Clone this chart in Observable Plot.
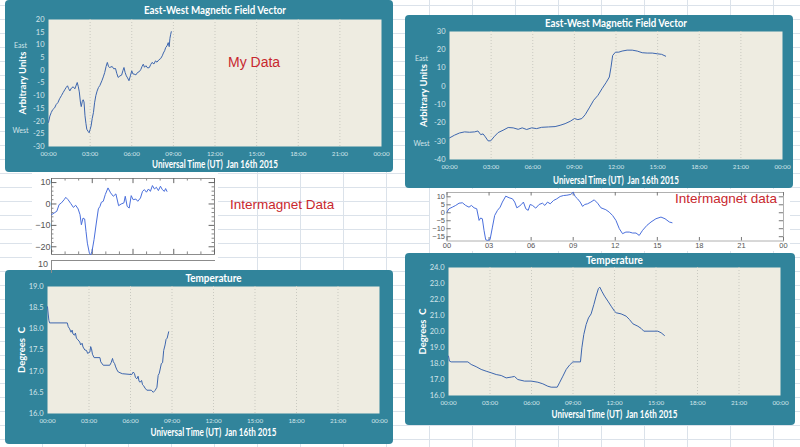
<!DOCTYPE html>
<html><head><meta charset="utf-8">
<script src="https://cdn.jsdelivr.net/npm/d3@7"></script>
<script src="https://cdn.jsdelivr.net/npm/@observablehq/plot@0.6"></script>
<style>
body{margin:0;width:800px;height:447px;overflow:hidden;position:relative;font-family:Lato,"Open Sans",sans-serif;
background-color:#fff;
background-image:linear-gradient(to right,#dbe2ea 1px,transparent 1px),linear-gradient(to bottom,#dbe2ea 1px,transparent 1px);
background-size:43px 14px;background-position:42px 5px;}
.panel{position:absolute;background:#31849B;border-radius:4px;overflow:hidden;}
.red{position:absolute;color:#C8282E;font-family:"Liberation Sans",Arial,sans-serif;white-space:nowrap;}
.wbox{position:absolute;background:#fff;}
</style></head><body>
<script>
// ---------- shared axis values ----------
const hourTicks = [0,3,6,9,12,15,18,21,24];
const hourLabels = ["00:00","03:00","06:00","09:00","12:00","15:00","18:00","21:00","00:00"];
const shortHourLabels = ["00","03","06","09","12","15","18","21","00"];
const xAxisTitle = "Universal Time (UT)  Jan 16th 2015";

// ---------- Panel 1: My Data, East-West field (left) ----------
const myMagHours = [0,0.1,0.2,0.3,0.44,0.55,0.68,0.8,0.93,1.05,
  1.17,1.27,1.37,1.45,1.54,1.65,1.78,1.9,2.0,2.07,
  2.15,2.22,2.3,2.36,2.44,2.5,2.56,2.63,2.7,2.76,
  2.85,2.93,3.0,3.07,3.15,3.24,3.32,3.41,3.5,3.6,
  3.7,3.85,3.95,4.05,4.15,4.24,4.32,4.39,4.5,4.59,
  4.7,4.83,4.92,5.02,5.15,5.27,5.36,5.44,5.52,5.61,
  5.7,5.8,5.9,6.0,6.08,6.17,6.3,6.41,6.55,6.66,
  6.75,6.83,6.92,7.02,7.15,7.27,7.36,7.46,7.6,7.71,
  7.82,7.95,8.08,8.2,8.28,8.37,8.45,8.54,8.63,8.7,
  8.75,8.8,8.85];
const myMagValues = [-20.5,-18,-16.6,-15.5,-14.8,-13.5,-12.7,-11.2,-10,-8.8,
  -7.7,-6.8,-6.1,-7.2,-8.1,-7.0,-6.5,-7.3,-5.8,-4.8,
  -6.5,-8.5,-12.5,-14.3,-12.2,-11.6,-12.5,-17.9,-21,-23.2,
  -24.0,-24.6,-23.3,-21.9,-19,-16.6,-12.8,-10,-8.2,-6.8,
  -6,-4.1,-2.6,-0.9,1.5,3.1,1.6,1.1,1.3,1.5,
  0.6,0.7,-1.2,-2.8,-2.2,-1.9,-0.2,1.1,-0.8,-2.2,
  -3.0,-4.1,-2.2,-0.2,-1.4,-1.5,-1.8,-0.9,-0.5,0.4,
  1.6,2.4,1.2,1.8,0.9,1.1,2.2,3.1,2.5,3.7,
  3.2,4.1,4.6,5.7,6.8,7.7,9.0,9.6,10.9,9.3,
  12.5,14,15.2];
const magLeftTicks = [-30,-25,-20,-15,-10,-5,0,5,10,15,20];

// ---------- Panel 2: East-West field (right) ----------
const magRightHours = [0,0.36,0.72,1.09,1.45,1.81,2.05,2.25,2.42,2.58,
  2.78,2.97,3.21,3.5,3.86,4.23,4.59,4.95,5.24,5.56,
  5.92,6.28,6.64,7.13,7.61,7.97,8.33,8.7,9.01,9.25,
  9.54,9.78,10.07,10.39,10.7,10.99,11.28,11.52,11.64,11.76,
  11.96,12.2,12.44,12.8,13.17,13.53,13.89,14.25,14.61,14.98,
  15.29,15.58];
const magRightValues = [-28.2,-26.7,-25.5,-24.9,-25.1,-24.9,-24.4,-26.4,-26,-27.6,
  -29.8,-29.8,-27.6,-25.3,-24,-22.5,-22.7,-23.5,-22.7,-23.6,
  -22.7,-23.1,-22.4,-22.2,-22,-21.3,-20.4,-19.1,-17.6,-18.2,
  -17.6,-15.5,-11.8,-7.6,-4.9,-1.3,2,5.1,10.5,16.9,
  18.7,18.7,19.3,19.8,19.8,19.3,18.4,18.2,18.2,17.8,
  17.5,16.5];
const magRightTicks = [-40,-30,-20,-10,0,10,20,30];

// ---------- Panel 3: Intermagnet data (left, 0-12 h) ----------
const imLeftHours = [0,0.2,0.39,0.56,0.73,0.93,1.05,1.22,1.42,1.61,
  1.78,1.96,2.1,2.2,2.32,2.44,2.54,2.64,2.79,2.88,
  2.98,3.13,3.3,3.45,3.57,3.67,3.81,3.96,4.16,4.35,
  4.55,4.74,4.94,5.13,5.33,5.43,5.57,5.72,5.87,6.01,
  6.21,6.35,6.55,6.7,6.84,6.99,7.14,7.28,7.43,7.58,
  7.72,7.87,8.02,8.16,8.31,8.4,8.5];
const imLeftValues = [-5,-4.2,-3.4,-0.3,0.5,2,3.1,2,0.2,-1.6,
  -0.6,-2.3,-5,-9.7,-6.6,-7,-12.8,-18.3,-23,-23.8,
  -22.2,-16.7,-8.9,-2.3,-1.1,0.8,1.25,4.4,7.5,5.2,
  3.6,4.7,-0.8,0,0.5,3.6,-1.1,-1.9,3.9,2,
  2.3,1.25,2.8,5.9,6.7,5.5,7,5.9,8.6,7,
  7.8,6.25,8.3,6.7,5.9,7.2,5.9];
const imLeftYLabels = [-20,-10,0,10];
const imLeftYMinor = [-22,-18,-16,-14,-12,-8,-6,-4,-2,2,4,6,8];
const imLeftXMajor = [0,3,6,9,12];
const imLeftXMinor = [1,2,4,5,7,8,10,11];
const imLeftDomainY = [-23.6,11.9];

// ---------- Panel 4: Intermagnet data (right, 0-24 h) ----------
const imRightHours = [0,0.14,0.38,0.62,0.86,1.1,1.33,1.57,1.74,1.93,
  2.12,2.29,2.4,2.52,2.64,2.76,2.88,3.07,3.24,3.4,
  3.6,3.79,3.95,4.19,4.43,4.67,4.83,4.98,5.14,5.31,
  5.45,5.62,5.79,5.93,6.1,6.33,6.57,6.81,6.98,7.17,
  7.36,7.6,7.83,8.07,8.31,8.55,8.83,9,9.14,9.31,
  9.5,9.67,9.83,10.02,10.26,10.5,10.74,10.98,11.33,11.57,
  11.81,12.05,12.29,12.52,12.76,13,13.24,13.48,13.71,13.95,
  14.26,14.55,14.9,15.26,15.55,15.86,16.05];
const imRightValues = [0.4,2.5,3.5,4.6,6,6.25,4.6,3.5,4.6,3.1,
  2.5,-4.8,-3.3,-3.75,-11,-16.9,-17.3,-16.9,-9,-1.7,
  1.5,3.5,6.7,10.4,9.4,8.75,6.7,3.1,4,5.2,
  6.7,2.5,1.5,5.2,4.6,2.9,5.2,6,4.6,6.7,
  5.6,7.7,8.75,10.2,10.8,11,11.5,12.9,10.2,8.75,
  6.7,4,5.2,5.6,6.7,8.1,6,3.1,1.9,0.4,
  -1.7,-4.8,-10,-13.1,-12.1,-12.1,-12.7,-12.7,-14.2,-11,
  -7.9,-5.8,-3.75,-2.7,-3.75,-5.8,-6.25];
const imRightYLabels = [-15,-10,-5,0,5,10];
const imRightDomainY = [-17.7,12.7];

// ---------- Panel 5: Temperature (left) ----------
const tempLeftHours = [0,0.05,0.1,0.15,1.43,1.5,1.6,1.7,1.78,1.84,
  1.95,2.02,2.09,2.2,2.33,2.4,2.5,2.57,2.7,2.82,
  2.9,3.06,3.12,3.18,3.25,3.37,3.79,3.85,4.03,4.5,
  4.6,4.7,4.76,4.85,4.93,5.02,5.12,5.41,6.09,6.2,
  6.29,6.36,6.46,6.55,6.62,6.7,6.8,6.87,6.94,7.05,
  7.18,7.5,7.65,7.79,7.91,8.0,8.08,8.23,8.32,8.4,
  8.5,8.57,8.65,8.76];
const tempLeftValues = [18.52,18.35,18.2,18.14,18.14,18.05,18.0,17.92,17.97,17.88,
  17.85,17.9,17.78,17.74,17.69,17.62,17.66,17.57,17.5,17.49,
  17.42,17.45,17.58,17.53,17.4,17.32,17.32,17.22,17.14,17.14,
  17.2,17.3,17.22,17.18,17.1,17.03,16.98,16.94,16.92,16.98,
  16.94,16.85,16.82,16.88,16.76,16.74,16.78,16.68,16.66,16.6,
  16.55,16.55,16.5,16.55,16.62,16.9,16.95,17.18,17.2,17.49,
  17.62,17.75,17.78,17.93];
const tempLeftTicks = [16,16.5,17,17.5,18,18.5,19];

// ---------- Panel 6: Temperature (right) ----------
const tempRightHours = [0,0.07,0.19,1.4,1.64,2,2.36,2.72,3.08,3.45,
  3.81,4.17,4.53,4.77,5.01,5.49,5.98,6.46,6.82,7.18,
  7.42,7.86,8.02,8.27,8.51,8.75,8.99,9.54,9.64,9.78,
  9.95,10.12,10.31,10.51,10.67,10.84,10.94,11.08,11.28,11.52,
  11.76,12,12.12,12.48,12.84,13.08,13.33,13.69,13.93,14.12,
  15.13,15.37,15.61];
const tempRightValues = [18.46,18.15,18.1,18.1,17.94,17.8,17.63,17.52,17.42,17.31,
  17.25,17.1,17.15,17.19,17,16.9,16.9,16.83,16.73,16.58,
  16.52,16.52,16.79,17.21,17.63,17.9,18.1,18.1,18.98,19.81,
  20.44,20.85,21.1,21.69,22.21,22.69,22.77,22.52,22.21,21.9,
  21.58,21.27,21.17,21.1,20.96,20.75,20.48,20.33,20.19,20.02,
  20.02,19.92,19.75];
const tempRightTicks = [16,17,18,19,20,21,22,23,24];

// ---------- builders ----------
const tickColor = "#D3E4EA";
function hourFmt(d){ return hourLabels[hourTicks.indexOf(d)]; }

function fitText(svg, fits){
  svg.querySelectorAll("text").forEach(t => {
    const w = fits[t.textContent];
    if (w) { t.setAttribute("textLength", w); t.setAttribute("lengthAdjust", "spacingAndGlyphs"); }
  });
}

function tealPanel(c){
  const box = document.createElement("div");
  box.className = "panel";
  Object.assign(box.style,{left:c.left+"px",top:c.top+"px",width:c.width+"px",height:c.height+"px"});
  const data = c.hours.map((h,i)=>({h, v:c.values[i]}));
  const marks = [
    Plot.frame({fill:"#EEECE1", stroke:"none"}),
    Plot.gridX(hourTicks.slice(1,-1), {stroke:"#c9c9c0", strokeDasharray:"1,2", strokeOpacity:1}),
    Plot.axisX(hourTicks, {tickFormat:hourFmt, tickSize:0, tickPadding:5, fill:tickColor, fontSize:6.3, label:null}),
    Plot.axisY(c.yTicks, {tickFormat:c.yFmt, tickSize:0, tickPadding:4, fill:tickColor, fontSize:7.5, label:null}),
    Plot.line(data, {x:"h", y:"v", stroke:"#3D66AE", strokeWidth:1}),
    Plot.text([c.yTitle], {text:d=>d, frameAnchor:"left", textAnchor:"middle", lineAnchor:"middle", rotate:-90, dx:-26, fill:"#fff", fontWeight:"bold", fontSize:9.5}),
    Plot.text([xAxisTitle], {text:d=>d, frameAnchor:"bottom", textAnchor:"middle", lineAnchor:"middle", dy:c.xTitleDy, fill:"#fff", fontWeight:"bold", fontSize:11}),
    Plot.text([c.title], {text:d=>d, frameAnchor:"top", textAnchor:"middle", lineAnchor:"middle", dy:c.titleDy, fill:"#fff", fontWeight:"bold", fontSize:12})
  ];
  if (c.sides) marks.push(Plot.text(c.sides, {y:"v", text:"label", frameAnchor:"left", textAnchor:"middle", dx:-28, fill:tickColor, fontSize:7}));
  const chart = Plot.plot({
    width:c.width, height:c.height,
    marginLeft:c.mL, marginRight:c.mR, marginTop:c.mT, marginBottom:c.mB,
    style:{background:"transparent", fontFamily:"Lato, 'Open Sans', sans-serif", overflow:"visible"},
    x:{domain:[0,24]}, y:{domain:c.yDomain},
    marks
  });
  fitText(chart, {[xAxisTitle]:126, [c.title]:c.titleWidth});
  chart.style.position="absolute"; chart.style.left="0"; chart.style.top="0";
  box.append(chart);
  document.body.append(box);
}

function redText(txt, left, top, size){
  const d = document.createElement("div");
  d.className="red"; d.textContent=txt;
  Object.assign(d.style,{left:left+"px", top:top+"px", fontSize:size+"px"});
  document.body.append(d);
}

// Panel 1
tealPanel({left:5, top:0, width:388, height:172, mL:43, mR:12, mT:19, mB:26,
  title:"East-West Magnetic Field Vector", titleWidth:142, titleDy:-9, hours:myMagHours, values:myMagValues,
  yDomain:[-30,20], yTicks:magLeftTicks, yFmt:d=>String(d), yTitle:"Arbitrary Units", xTitleDy:18,
  sides:[{label:"East", v:9.6},{label:"West", v:-23.8}]});
// Panel 2
tealPanel({left:405, top:15, width:388, height:173, mL:44, mR:11, mT:16, mB:29,
  title:"East-West Magnetic Field Vector", titleWidth:142, titleDy:-8, hours:magRightHours, values:magRightValues,
  yDomain:[-40,30], yTicks:magRightTicks, yFmt:d=>String(d), yTitle:"Arbitrary Units", xTitleDy:21,
  sides:[{label:"East", v:15.1},{label:"West", v:-31.3}]});
// Panel 5
tealPanel({left:5, top:270, width:388, height:174, mL:42, mR:14, mT:16, mB:31,
  title:"Temperature", titleWidth:56, titleDy:-8, hours:tempLeftHours, values:tempLeftValues,
  yDomain:[16,19], yTicks:tempLeftTicks, yFmt:d=>d.toFixed(1), yTitle:"Degrees  C", xTitleDy:19});
// Panel 6
tealPanel({left:405, top:253, width:390, height:172, mL:43, mR:15, mT:14, mB:30,
  title:"Temperature", titleWidth:57, titleDy:-7, hours:tempRightHours, values:tempRightValues,
  yDomain:[16,24], yTicks:tempRightTicks, yFmt:d=>d.toFixed(1), yTitle:"Degrees  C", xTitleDy:19});

// Panel 3: Intermagnet (left)
(function(){
  const wrap = document.createElement("div");
  wrap.className="wbox";
  Object.assign(wrap.style,{left:"32px", top:"172px", width:"186px", height:"98px"});
  const data = imLeftHours.map((h,i)=>({h, v:imLeftValues[i]}));
  const [y0,y1] = imLeftDomainY;
  const chart = Plot.plot({
    width:186, height:88, marginLeft:19, marginRight:4, marginTop:6, marginBottom:6,
    style:{background:"#fff", fontFamily:"'Liberation Sans', Arial, sans-serif", overflow:"visible"},
    x:{domain:[0,12]}, y:{domain:imLeftDomainY},
    marks:[
      Plot.frame({stroke:"#8c8c8c"}),
      Plot.ruleY(imLeftYLabels, {y:d=>d, x1:0, x2:0.4, stroke:"#666"}),
      Plot.ruleY(imLeftYMinor, {y:d=>d, x1:0, x2:0.18, stroke:"#888"}),
      Plot.ruleY(imLeftYLabels, {y:d=>d, x1:11.6, x2:12, stroke:"#666"}),
      Plot.ruleY(imLeftYMinor, {y:d=>d, x1:11.82, x2:12, stroke:"#888"}),
      Plot.ruleX(imLeftXMajor, {x:d=>d, y1:y1, y2:y1-2.4, stroke:"#666"}),
      Plot.ruleX(imLeftXMinor, {x:d=>d, y1:y1, y2:y1-1.2, stroke:"#888"}),
      Plot.ruleX(imLeftXMajor, {x:d=>d, y1:y0, y2:y0+2.4, stroke:"#666"}),
      Plot.ruleX(imLeftXMinor, {x:d=>d, y1:y0, y2:y0+1.2, stroke:"#888"}),
      Plot.axisY(imLeftYLabels, {tickSize:0, tickPadding:1, fontSize:9, fill:"#555", label:null}),
      Plot.axisX([], {label:null}),
      Plot.line(data, {x:"h", y:"v", stroke:"#4A6FDC", strokeWidth:1})
    ]
  });
  chart.style.position="absolute"; chart.style.left="0"; chart.style.top="0";
  const stub = document.createElement("div");
  Object.assign(stub.style,{position:"absolute", left:"19px", top:"88px", width:"163px", height:"12px",
    borderTop:"1px solid #8c8c8c", borderLeft:"1px solid #8c8c8c"});
  const stubLbl = document.createElement("div");
  stubLbl.textContent = "10";
  Object.assign(stubLbl.style,{position:"absolute", left:"6px", top:"87px", fontSize:"9px", lineHeight:"10px", color:"#555",
    fontFamily:"'Liberation Sans', Arial, sans-serif"});
  wrap.append(chart, stub, stubLbl);
  document.body.append(wrap);
})();

// Panel 4: Intermagnet (right)
(function(){
  const wrap = document.createElement("div");
  wrap.className="wbox";
  Object.assign(wrap.style,{left:"430px", top:"189px", width:"360px", height:"62px"});
  const data = imRightHours.map((h,i)=>({h, v:imRightValues[i]}));
  const [y0,y1] = imRightDomainY;
  const chart = Plot.plot({
    width:358, height:62, marginLeft:16.5, marginRight:5, marginTop:3, marginBottom:10.5,
    style:{background:"#fff", fontFamily:"'Liberation Sans', Arial, sans-serif", overflow:"visible"},
    x:{domain:[0,24]}, y:{domain:imRightDomainY},
    marks:[
      Plot.frame({stroke:"#b0b0b0"}),
      Plot.ruleY(imRightYLabels, {y:d=>d, x1:0, x2:0.3, stroke:"#777"}),
      Plot.ruleY(imRightYLabels, {y:d=>d, x1:23.7, x2:24, stroke:"#777"}),
      Plot.ruleX(hourTicks, {x:d=>d, y1:y0, y2:y0+2.2, stroke:"#777"}),
      Plot.ruleX(hourTicks, {x:d=>d, y1:y1, y2:y1-2.2, stroke:"#777"}),
      Plot.axisY(imRightYLabels, {tickSize:0, tickPadding:2, fontSize:7.5, fill:"#555", label:null}),
      Plot.axisX(hourTicks, {tickFormat:d=>shortHourLabels[hourTicks.indexOf(d)], tickSize:0, tickPadding:2, fontSize:7.5, fill:"#555", label:null}),
      Plot.line(data, {x:"h", y:"v", stroke:"#4A6FDC", strokeWidth:1})
    ]
  });
  chart.style.position="absolute"; chart.style.left="0"; chart.style.top="0";
  wrap.append(chart);
  document.body.append(wrap);
})();

redText("My Data", 228, 54, 14);
redText("Intermagnet Data", 230, 197, 13.5);
redText("Intermagnet data", 675, 191, 13.5);
</script>
</body></html>
